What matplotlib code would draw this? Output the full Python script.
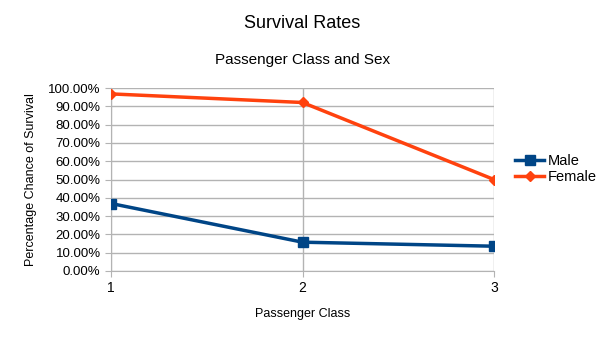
import matplotlib
matplotlib.use("Agg")
import matplotlib.pyplot as plt
from matplotlib.ticker import FuncFormatter

plt.rcParams['font.family'] = ['Liberation Sans', 'DejaVu Sans']

pclass = [1, 2, 3]
male = [0.3689, 0.1574, 0.1354]
female = [0.9681, 0.9211, 0.5000]
yticks = [i / 10 for i in range(11)]

fig = plt.figure(figsize=(6.05, 3.4), dpi=100)
ax = fig.add_axes([0.1835, 0.203, 0.633, 0.538])

ax.plot(pclass, male, color='#004586', linewidth=2.5, marker='s', markersize=7, label='Male', zorder=3)
ax.plot(pclass, female, color='#ff420e', linewidth=2.5, marker='D', markersize=5.5, label='Female', zorder=3)

ax.set_xlim(1, 3)
ax.set_ylim(0, 1)
ax.set_xticks(pclass)
ax.set_yticks(yticks)
ax.yaxis.set_major_formatter(FuncFormatter(lambda v, p: '%.2f%%' % (v * 100)))
ax.grid(axis='y', color='#b3b3b3', linewidth=1)
ax.grid(axis='x', color='#b3b3b3', linewidth=1)
for s in ax.spines.values():
    s.set_visible(False)
ax.spines['left'].set_visible(True)
ax.spines['bottom'].set_visible(True)
ax.spines['left'].set_color('#b3b3b3')
ax.spines['bottom'].set_color('#b3b3b3')
ax.tick_params(axis='both', colors='#b3b3b3', labelcolor='black', labelsize=9.5, length=4)
ax.tick_params(axis='x', labelsize=10)

ax.set_xlabel('Passenger Class', fontsize=9, labelpad=9)
ax.set_ylabel('Percentage Chance of Survival', fontsize=9, labelpad=8)

fig.text(0.5, 0.93, 'Survival Rates', ha='center', va='center', fontsize=13)
fig.text(0.5, 0.823, 'Passenger Class and Sex', ha='center', va='center', fontsize=11)

ax.legend(loc='center left', bbox_to_anchor=(1.055, 0.557), frameon=False, fontsize=10.5,
          handlelength=2.0, handletextpad=0.25, labelspacing=0.15, borderpad=0, borderaxespad=0)

fig.savefig('out.png', dpi=100)
